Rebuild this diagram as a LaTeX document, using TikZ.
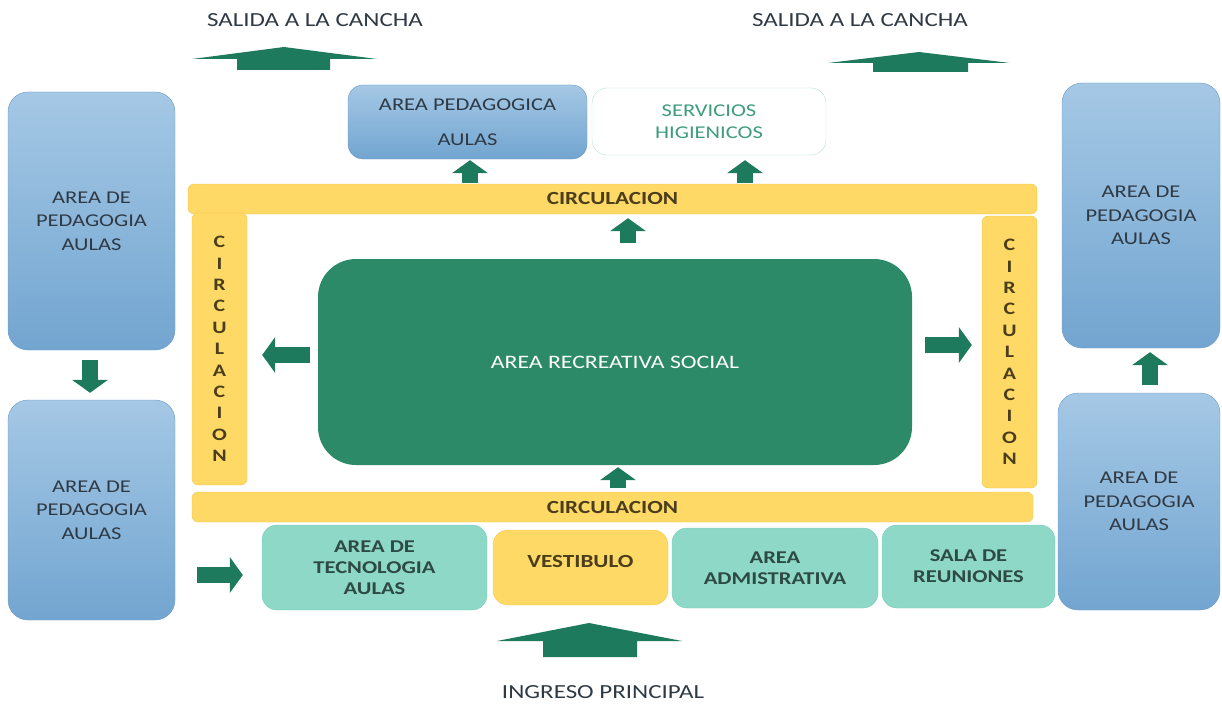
\documentclass[tikz,border=0pt]{standalone}
\usepackage{fontspec}
\setmainfont{Carlito}[FakeStretch=1.25]
\usetikzlibrary{arrows.meta}
\definecolor{verdeflecha}{HTML}{1E7A5C}
\definecolor{verderecre}{HTML}{2C8A68}
\definecolor{amarillo}{HTML}{FFD966}
\definecolor{amarilloborde}{HTML}{F2C94C}
\definecolor{turquesa}{HTML}{8ED8C7}
\definecolor{turquesaborde}{HTML}{7ACBB8}
\definecolor{azularriba}{HTML}{A5C8E5}
\definecolor{azulabajo}{HTML}{72A5D0}
\definecolor{azulborde}{HTML}{6A9AC4}
\definecolor{textogris}{HTML}{2F3A45}
\definecolor{textoverde}{HTML}{2E4A44}
\definecolor{textocirc}{HTML}{4A3E1C}
\definecolor{textoserv}{HTML}{3E9C7C}
\definecolor{servborde}{HTML}{B5E2D6}

\tikzset{
  caja/.style={rounded corners=20pt, align=center, inner sep=0pt, font=\fontsize{18}{23.5}\selectfont},
  azul/.style={caja, draw=azulborde, top color=azularriba, bottom color=azulabajo, text=textogris},
  turq/.style={caja, rounded corners=15pt, draw=turquesaborde, fill=turquesa, text=textoverde, font=\fontsize{18}{21}\selectfont\bfseries},
  circ/.style={caja, rounded corners=6pt, draw=amarilloborde, fill=amarillo, text=textocirc, font=\fontsize{18.5}{21.5}\selectfont\bfseries},
  vertical/.style={circ, font=\fontsize{17.5}{21.4}\selectfont\bfseries, minimum width=55pt, minimum height=272pt},
  letrero/.style={font=\fontsize{20}{22}\selectfont, text=textogris},
  flecha/.style={draw=verdeflecha, line width=16pt, -{Triangle[length=13pt,width=36pt,line width=0pt]}},
}

\begin{document}
\begin{tikzpicture}[x=1pt, y=-1pt]
\useasboundingbox (0,0) rectangle (1222,706);

% salidas e ingreso
\node[letrero] (salidaI) at (315,20) {SALIDA A LA CANCHA};
\node[letrero] (salidaD) at (860,20) {SALIDA A LA CANCHA};
\node[letrero] (ingreso) at (603,692) {INGRESO PRINCIPAL};
\fill[verdeflecha] (237,70) -- (237,59) -- (192,59) -- (284,47) -- (377,59) -- (330,59) -- (330,70) -- cycle;
\fill[verdeflecha] (873,72) -- (873,63) -- (828,63) -- (919,52) -- (1010,63) -- (968,63) -- (968,72) -- cycle;
\fill[verdeflecha] (543,657) -- (543,641) -- (497,641) -- (589,623) -- (682,641) -- (637,641) -- (637,657) -- cycle;

% bloques laterales
\node[azul, minimum width=167pt, minimum height=258pt] (pedI1) at (91.5,221) {AREA DE\\PEDAGOGIA\\AULAS};
\node[azul, minimum width=167pt, minimum height=220pt] (pedI2) at (91.5,510) {AREA DE\\PEDAGOGIA\\AULAS};
\node[azul, minimum width=158pt, minimum height=265pt] (pedD1) at (1141,215.5) {AREA DE\\PEDAGOGIA\\AULAS};
\node[azul, minimum width=162pt, minimum height=217pt] (pedD2) at (1139,501.5) {AREA DE\\PEDAGOGIA\\AULAS};

% bloques de arriba
\node[azul, rounded corners=15pt, minimum width=239pt, minimum height=74pt] (aulas) at (467.5,122) {AREA PEDAGOGICA\\[11pt]AULAS};
\node[caja, rounded corners=15pt, draw=servborde, fill=white, text=textoserv, font=\fontsize{18}{22}\selectfont, minimum width=234pt, minimum height=67pt] (servicios) at (709,121.5) {SERVICIOS\\HIGIENICOS};

% circulaciones
\node[circ, minimum width=849pt, minimum height=30pt] (circA) at (612.5,199) {CIRCULACION};
\node[circ, minimum width=841pt, minimum height=30pt] (circB) at (612.5,507) {CIRCULACION};
\node[vertical] (circI) at (219.5,349) {C\\I\\R\\C\\U\\L\\A\\C\\I\\O\\N};
\node[vertical] (circD) at (1009.5,352) {C\\I\\R\\C\\U\\L\\A\\C\\I\\O\\N};

% area central
\node[caja, rounded corners=38pt, fill=verderecre, text=white, font=\fontsize{19}{23}\selectfont, minimum width=594pt, minimum height=206pt] (recreativa) at (615,362) {AREA RECREATIVA SOCIAL};

% bloques de abajo
\node[turq, minimum width=225pt, minimum height=85pt] (tecno) at (374.5,567.5) {AREA DE\\TECNOLOGIA\\AULAS};
\node[circ, rounded corners=15pt, font=\fontsize{18.5}{21}\selectfont\bfseries, minimum width=175pt, minimum height=75pt] (vestibulo) at (580.5,567.5) {VESTIBULO\\[-9pt]};
\node[turq, minimum width=206pt, minimum height=80pt] (admin) at (775,568) {AREA\\ADMISTRATIVA};
\node[turq, minimum width=173pt, minimum height=83pt] (sala) at (968.5,566.5) {SALA DE\\REUNIONES};

% flechas
\draw[flecha, shorten <=8pt, shorten >=15pt] (recreativa.west |- 0,355) -- (circI.east |- 0,355);
\draw[flecha, shorten <=13pt, shorten >=10pt] (recreativa.east |- 0,345) -- (circD.west |- 0,345);
\draw[flecha, shorten <=16pt, shorten >=4pt] (recreativa.north -| 628,0) -- (circA.south -| 628,0);
\draw[flecha, shorten <=4pt, shorten >=2pt] (circB.north -| 618,0) -- (recreativa.south -| 618,0);
\draw[flecha, shorten <=1pt, shorten >=1pt] (circA.north -| 470,0) -- (aulas.south -| 470,0);
\draw[flecha, shorten <=1pt, shorten >=5pt] (circA.north -| 745,0) -- (servicios.south -| 745,0);
\draw[flecha, shorten <=10pt, shorten >=7pt] (pedI1.south -| 90,0) -- (pedI2.north -| 90,0);
\draw[flecha, shorten <=8pt, shorten >=4pt] (pedD2.north -| 1150,0) -- (pedD1.south -| 1150,0);
\draw[flecha, shorten <=22pt, shorten >=19pt] (pedI2.east |- 0,575) -- (tecno.west |- 0,575);

\end{tikzpicture}
\end{document}
